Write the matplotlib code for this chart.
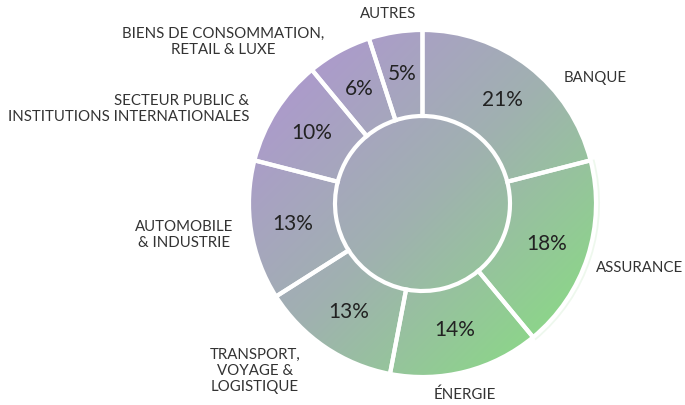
import matplotlib.pyplot as plt
import numpy as np
from matplotlib.colors import LinearSegmentedColormap
from matplotlib.patches import Circle, Wedge

# secteurs (sens horaire depuis le haut)
categories = ["BANQUE", "ASSURANCE", "ÉNERGIE", "TRANSPORT,\nVOYAGE &\nLOGISTIQUE",
              "AUTOMOBILE\n& INDUSTRIE", "SECTEUR PUBLIC &\nINSTITUTIONS INTERNATIONALES",
              "BIENS DE CONSOMMATION,\nRETAIL & LUXE", "AUTRES"]
shares = [21, 18, 14, 13, 13, 10, 6, 5]

# position des etiquettes en pixels (x, y depuis le haut), alignement
label_pos = [(595, 78, "center"), (640, 268, "center"), (465, 395, "center"),
             (255, 371, "center"), (184, 235, "center"), (249, 109, "right"),
             (223, 42, "center"), (388, 14, "center")]

W, H = 685, 405
cx, cy = 422.5, H - 203.5
r_out, r_in = 173.5, 87.5

plt.rcParams['font.family'] = ['Lato', 'DejaVu Sans']

fig = plt.figure(figsize=(W / 100, H / 100), dpi=100)
ax = fig.add_axes([0, 0, 1, 1])

wedges, texts, autotexts = ax.pie(
    shares, radius=r_out, center=(cx, cy), startangle=90, counterclock=False,
    autopct="%.0f%%", pctdistance=0.755,
    wedgeprops=dict(width=r_out - r_in, facecolor="none", edgecolor="white", linewidth=3),
    textprops=dict(fontsize=15, color="#222222"))

# degrade violet -> vert en diagonale
n = 400
u = np.linspace(0, 1, n)
grad = (u[None, :] + u[:, None]) / 2
cmap = LinearSegmentedColormap.from_list("pv", ["#ac9bcb", "#a0b1b0", "#8dd48b"])
img = ax.imshow(grad, cmap=cmap, vmin=0.146, vmax=0.854, origin="upper",
                extent=(cx - r_out, cx + r_out, cy - r_out, cy + r_out),
                interpolation="bilinear", zorder=0)
clip = Circle((cx, cy), r_out, transform=ax.transData)
img.set_clip_path(clip)

# halo tres leger autour de ASSURANCE
w = wedges[1]
ax.add_patch(Wedge((cx, cy), r_out + 4, w.theta1, w.theta2, width=1.8,
                   facecolor="#8ed38c", edgecolor="none", alpha=0.15))

for lab, (x, y, ha) in zip(categories, label_pos):
    ax.text(x, H - y, lab, ha=ha, va="center", multialignment=ha,
            fontsize=10.8, color="#333333", linespacing=1.2)

ax.set_xlim(0, W)
ax.set_ylim(0, H)
ax.set_aspect("equal")
ax.axis("off")

fig.savefig("out.png", dpi=100)
